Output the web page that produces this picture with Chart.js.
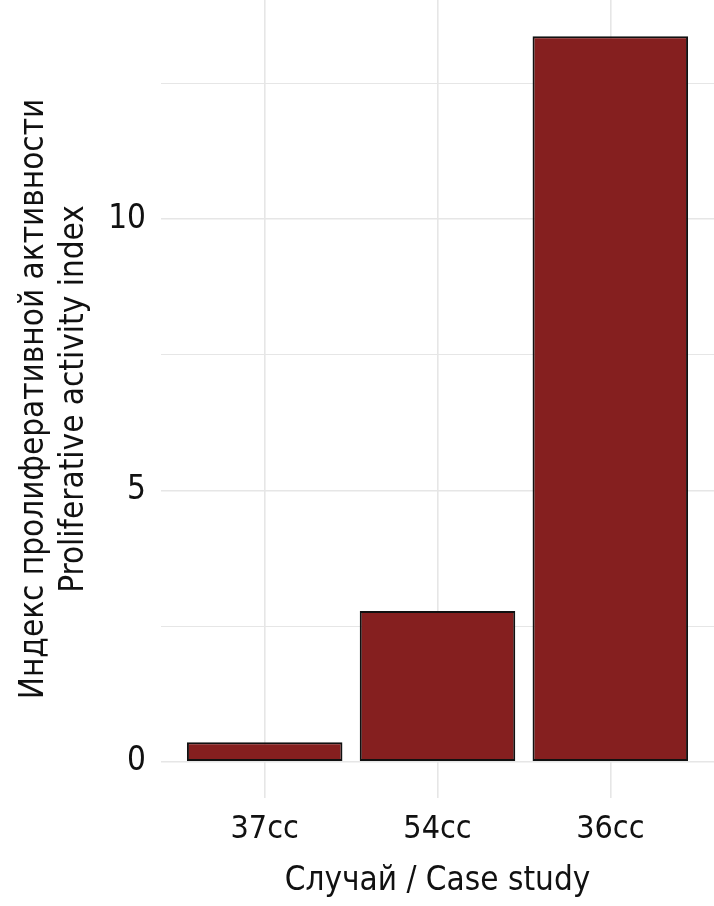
<!DOCTYPE html>
<html>
<head>
<meta charset="utf-8">
<script src="https://cdn.jsdelivr.net/npm/chart.js@4.4.1/dist/chart.umd.min.js"></script>
<style>
  html, body { margin: 0; padding: 0; background: #fff; }
  #wrap { width: 714px; height: 906px; }
</style>
</head>
<body>
<div id="wrap"><canvas id="chart" width="714" height="906"></canvas></div>
<script>
// данные с рисунка
const categories = ['37cc', '54cc', '36cc'];
const values = [0.36, 2.78, 13.37];
const yTicks = [0, 5, 10];
const yMinorTicks = [2.5, 7.5, 12.5];

const FONT = '"Liberation Sans Narrow", "DejaVu Sans Condensed", "Roboto Condensed", sans-serif';
const gridColor = '#e6e6e6';

const ctx = document.getElementById('chart').getContext('2d');
new Chart(ctx, {
  type: 'bar',
  data: {
    datasets: [{
      data: values.map((v, i) => ({ x: i + 1, y: v })),
      backgroundColor: '#851f1f',
      borderColor: '#111111',
      borderWidth: 2,
      borderSkipped: false,
      categoryPercentage: 1,
      barPercentage: 0.9
    }]
  },
  options: {
    responsive: false,
    animation: false,
    layout: { padding: 0 },
    plugins: { legend: { display: false }, tooltip: { enabled: false } },
    scales: {
      x: {
        type: 'linear',
        min: 0.4,
        max: 3.6,
        offset: false,
        afterBuildTicks: s => { s.ticks = categories.map((c, i) => ({ value: i + 1 })); },
        afterFit: s => {
          s.height = 108;
          s.paddingLeft = 0;
          s.paddingRight = 0;
        },
        grid: { color: gridColor, lineWidth: 1.6, drawTicks: false, offset: false },
        border: { display: false },
        ticks: {
          padding: 12,
          color: '#111',
          font: { family: FONT, size: 32 },
          callback: v => categories[Math.round(v) - 1] || ''
        },
        title: {
          display: true,
          text: 'Случай / Case study',
          color: '#111',
          font: { family: FONT, size: 33 },
          padding: { top: 4, bottom: 5 }
        }
      },
      y: {
        min: -0.668,
        max: 14.04,
        afterBuildTicks: s => {
          s.ticks = yTicks.concat(yMinorTicks).sort((a, b) => a - b).map(v => ({ value: v }));
        },
        afterFit: s => {
          s.width = 161;
          s.paddingTop = 0;
          s.paddingBottom = 0;
        },
        grid: {
          color: gridColor,
          lineWidth: c => (yTicks.includes(c.tick.value) ? 1.6 : 1),
          drawTicks: false
        },
        border: { display: false },
        ticks: {
          padding: 15,
          color: '#111',
          font: { family: FONT, size: 33 },
          callback: v => (yTicks.includes(v) ? String(v) : '')
        },
        title: {
          display: true,
          text: ['Индекс пролиферативной активности', 'Proliferative activity index'],
          color: '#111',
          font: { family: FONT, size: 33, lineHeight: 1.2 },
          padding: { top: 15, bottom: 0 }
        }
      }
    }
  }
});
</script>
</body>
</html>
